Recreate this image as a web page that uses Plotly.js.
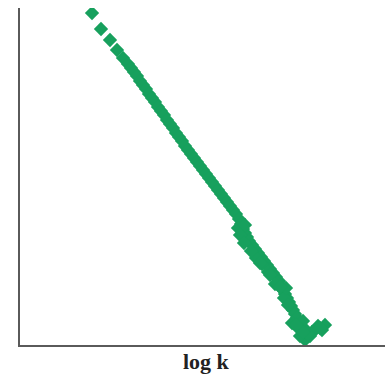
<!DOCTYPE html>
<html>
<head>
<meta charset="utf-8">
<script src="https://cdn.plot.ly/plotly-3.0.1.min.js"></script>
<style>html,body{margin:0;padding:0;background:#fff;}#chart{width:385px;height:376px;}</style>
</head>
<body>
<div id="chart"></div>
<script>
// log k values (x) and log P(k) values (y)
const logK = [
  0.72, 0.81, 0.90, 0.97, 1.03, 1.08,
  1.11, 1.14, 1.17, 1.20, 1.23, 1.26, 1.29, 1.32, 1.35, 1.38,
  1.41, 1.44, 1.47, 1.50, 1.53, 1.56, 1.59, 1.62, 1.65, 1.68,
  1.71, 1.74, 1.77, 1.80, 1.83, 1.86, 1.89, 1.92, 1.95, 1.98,
  2.01, 2.04, 2.07, 2.10, 2.13, 2.16, 2.19, 2.21, 2.23, 2.25,
  2.27, 2.29, 2.32, 2.35, 2.38, 2.41, 2.44, 2.47, 2.50, 2.53,
  2.56, 2.59, 2.61, 2.63, 2.65, 2.67, 2.69, 2.71, 2.73, 2.75,
  2.77,
  2.18, 2.25, 2.20, 2.36, 2.42, 2.48, 2.64, 2.66, 2.24, 2.31, 2.57,
  2.40, 2.50, 2.55, 2.60, 2.68,
  2.85, 2.80, 2.90, 2.72, 2.78, 2.98, 3.05, 3.02, 2.92, 2.86, 2.83,
  2.95, 3.00, 2.88, 2.83, 2.76
];
const logP = [
  3.32, 3.16, 3.05, 2.95, 2.87, 2.81,
  2.77, 2.73, 2.69, 2.64, 2.60, 2.56, 2.51, 2.47, 2.43, 2.38,
  2.34, 2.30, 2.25, 2.21, 2.17, 2.12, 2.08, 2.04, 1.99, 1.95,
  1.91, 1.87, 1.83, 1.79, 1.75, 1.71, 1.67, 1.63, 1.59, 1.55,
  1.51, 1.47, 1.43, 1.39, 1.35, 1.31, 1.26, 1.21, 1.16, 1.12,
  1.08, 1.04, 1.00, 0.96, 0.92, 0.88, 0.84, 0.80, 0.76, 0.72,
  0.68, 0.64, 0.59, 0.55, 0.51, 0.47, 0.43, 0.39, 0.35, 0.31,
  0.27,
  1.17, 1.20, 1.10, 0.87, 0.81, 0.73, 0.47, 0.57, 1.02, 0.94, 0.62,
  0.82, 0.70, 0.61, 0.58, 0.40,
  0.05, 0.09, 0.09, 0.22, 0.17, 0.19, 0.20, 0.15, 0.13, 0.15, 0.24,
  0.15, 0.17, 0.11, 0.13, 0.20
];

const trace = {
  x: logK, y: logP, type: 'scatter', mode: 'markers',
  marker: {symbol: 'diamond', size: 11, color: '#17a05d', line: {width: 0}},
  hoverinfo: 'skip'
};

const axisCommon = {
  showline: true, linecolor: '#5a5a5a', linewidth: 2, mirror: false,
  showgrid: false, zeroline: false, ticks: '', showticklabels: false, fixedrange: true
};

const layout = {
  width: 385, height: 376,
  margin: {l: 20, r: 0, t: 8, b: 31},
  paper_bgcolor: '#fff', plot_bgcolor: '#fff',
  showlegend: false,
  xaxis: Object.assign({range: [0, 3.65]}, axisCommon),
  yaxis: Object.assign({range: [0, 3.37]}, axisCommon),
  annotations: [{
    text: 'log k', xref: 'paper', yref: 'paper', x: 0.51, y: 0,
    xanchor: 'center', yanchor: 'top', yshift: -2, showarrow: false,
    font: {family: 'Liberation Serif, serif', size: 22, color: '#222', weight: 'bold'}
  }]
};

Plotly.newPlot('chart', [trace], layout, {staticPlot: true, displayModeBar: false});
</script>
</body>
</html>
